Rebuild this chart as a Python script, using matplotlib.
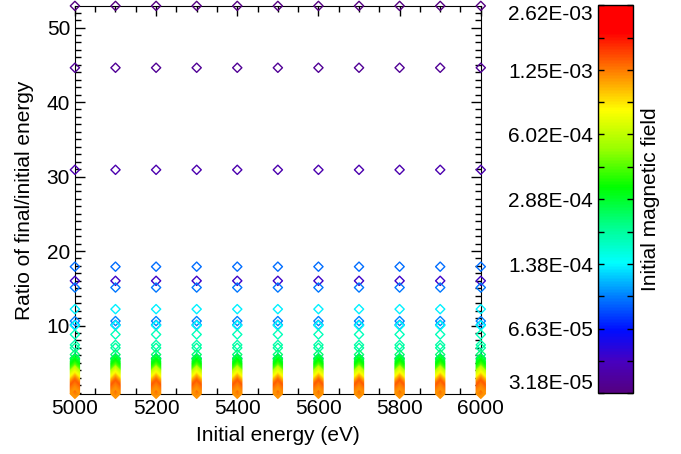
import matplotlib
matplotlib.use("Agg")
import matplotlib.pyplot as plt
import numpy as np
from matplotlib.colors import LinearSegmentedColormap, LogNorm
from matplotlib.cm import ScalarMappable
from matplotlib.ticker import MultipleLocator, FixedLocator

plt.rcParams['font.family'] = ['Liberation Sans', 'DejaVu Sans']
plt.rcParams['font.size'] = 15

# initial energies of the runs (eV)
energies = [5000, 5100, 5200, 5300, 5400, 5500, 5600, 5700, 5800, 5900, 6000]

# initial magnetic field of each run and the resulting energy ratio
b_field = [3.18e-5, 3.63e-5, 4.14e-5, 4.73e-5,
           9.0e-5, 9.3e-5, 9.6e-5, 9.9e-5, 1.02e-4,
           1.34e-4, 1.42e-4,
           1.80e-4, 1.90e-4, 2.00e-4, 2.30e-4,
           2.60e-4, 2.75e-4, 2.90e-4, 3.05e-4, 3.20e-4, 3.40e-4,
           3.60e-4, 3.85e-4, 4.10e-4, 4.60e-4,
           5.80e-4, 6.20e-4, 6.60e-4, 7.00e-4, 7.40e-4, 7.80e-4, 8.40e-4,
           9.30e-4, 1.02e-3, 1.10e-3, 1.20e-3, 1.28e-3, 1.35e-3, 1.40e-3,
           1.35e-3, 1.30e-3, 1.26e-3, 1.23e-3, 1.20e-3, 1.18e-3, 1.16e-3,
           1.15e-3]
ratio = [52.9, 44.6, 30.9, 16.0,
         17.9, 15.1, 10.6, 10.1, 5.6,
         12.2, 10.0,
         8.8, 7.4, 7.0, 6.1,
         5.6, 5.4, 5.2, 5.0, 4.85, 4.7,
         4.55, 4.4, 4.25, 4.1,
         3.95, 3.8, 3.65, 3.5, 3.35, 3.2, 3.05,
         2.9, 2.75, 2.6, 2.45, 2.3, 2.15, 2.0,
         1.85, 1.7, 1.55, 1.4, 1.25, 1.1, 0.95,
         0.85]

cbar_ticks = [3.18e-5, 6.63e-5, 1.38e-4, 2.88e-4, 6.02e-4, 1.25e-3, 2.62e-3]

rainbow = LinearSegmentedColormap.from_list('rainbow39', [
    (0.00, (0.33, 0.00, 0.50)),
    (0.08, (0.28, 0.00, 0.75)),
    (0.16, (0.00, 0.05, 1.00)),
    (0.25, (0.00, 0.50, 1.00)),
    (0.335, (0.00, 1.00, 1.00)),
    (0.43, (0.00, 1.00, 0.55)),
    (0.53, (0.00, 1.00, 0.00)),
    (0.63, (0.60, 1.00, 0.00)),
    (0.73, (1.00, 1.00, 0.00)),
    (0.83, (1.00, 0.50, 0.00)),
    (0.93, (1.00, 0.00, 0.00)),
    (1.00, (1.00, 0.00, 0.00)),
])
norm = LogNorm(vmin=cbar_ticks[0], vmax=cbar_ticks[-1])

fig = plt.figure(figsize=(6.81, 4.54), dpi=100)
ax = fig.add_axes([0.110, 0.132, 0.596, 0.855])
cax = fig.add_axes([0.878, 0.134, 0.051, 0.855])

colors = rainbow(norm(np.array(b_field)))
for e in energies:
    ax.scatter([e] * len(ratio), ratio, s=22, marker='D', facecolors='none',
               edgecolors=colors, linewidths=1.0, clip_on=False, zorder=3)

ax.set_xlim(5000, 6000)
ax.set_ylim(0.8, 52.9)
ax.xaxis.set_major_locator(MultipleLocator(200))
ax.xaxis.set_minor_locator(MultipleLocator(50))
ax.yaxis.set_major_locator(MultipleLocator(10))
ax.yaxis.set_minor_locator(MultipleLocator(1))
ax.tick_params(which='both', direction='in', top=True, right=True, width=1)
ax.tick_params(which='major', length=7)
ax.tick_params(which='minor', length=4)
ax.set_xlabel('Initial energy (eV)', labelpad=6)
ax.set_ylabel('Ratio of final/initial energy', labelpad=9)

cb = fig.colorbar(ScalarMappable(norm=norm, cmap=rainbow), cax=cax)
cb.outline.set_linewidth(1)
cax.yaxis.set_major_locator(FixedLocator(cbar_ticks))
cax.yaxis.set_ticklabels(['%.2E' % t for t in cbar_ticks])
mids = [np.sqrt(a * b) for a, b in zip(cbar_ticks[:-1], cbar_ticks[1:])]
cax.yaxis.set_minor_locator(FixedLocator(mids))
cax.yaxis.set_minor_formatter(plt.NullFormatter())
cax.tick_params(which='both', direction='in', left=True, right=True,
                labelleft=True, labelright=False, length=4, width=1)
# keep the end labels inside the bar's height
labels = cax.get_yticklabels()
labels[0].set_verticalalignment('bottom')
labels[-1].set_verticalalignment('top')
cax.yaxis.set_label_position('right')
cax.set_ylabel('Initial magnetic field', labelpad=6)

fig.savefig('out.png', dpi=100)
